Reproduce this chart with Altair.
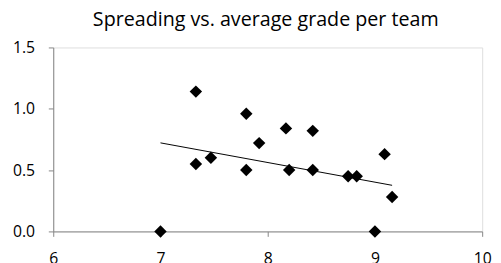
import altair as alt
import pandas as pd

# Scatter data: average grade per team (x) vs spreading (y)
avg_grade = [7.00, 7.33, 7.33, 7.47, 7.80, 7.80, 7.92, 8.17, 8.20, 8.42, 8.42, 8.75, 8.83, 9.00, 9.09, 9.16]
spreading = [0.00, 1.14, 0.55, 0.60, 0.96, 0.50, 0.72, 0.84, 0.50, 0.82, 0.50, 0.45, 0.45, 0.00, 0.63, 0.28]

# Trend line end points
trend_x = [7.00, 9.16]
trend_y = [0.722, 0.376]

x_ticks = [6, 7, 8, 9, 10]
y_ticks = [0.0, 0.5, 1.0, 1.5]

pts = pd.DataFrame({"x": avg_grade, "y": spreading})
trend = pd.DataFrame({"x": trend_x, "y": trend_y})

FONT = "Open Sans"
AXIS_COLOR = "#868686"

x_enc = alt.X(
    "x:Q",
    scale=alt.Scale(domain=[6, 10], nice=False, zero=False),
    axis=alt.Axis(values=x_ticks, format="d", title=None, grid=False,
                  domainColor=AXIS_COLOR, tickColor=AXIS_COLOR, tickSize=5,
                  labelPadding=15, labelFontSize=16, labelFont=FONT,
                  labelColor="#000000", labelFlush=False),
)
y_enc = alt.Y(
    "y:Q",
    scale=alt.Scale(domain=[0, 1.5], nice=False),
    axis=alt.Axis(values=y_ticks, format=".1f", title=None, grid=False,
                  domainColor=AXIS_COLOR, tickColor=AXIS_COLOR, tickSize=5,
                  labelPadding=14, labelFontSize=16, labelFont=FONT,
                  labelColor="#000000"),
)

points = alt.Chart(pts).mark_point(
    shape="diamond", filled=True, size=160, color="#000000", opacity=1
).encode(x=x_enc, y=y_enc)

line = alt.Chart(trend).mark_line(color="#000000", strokeWidth=1).encode(
    x=alt.X("x:Q"), y=alt.Y("y:Q")
)

chart = (
    alt.layer(line, points)
    .properties(
        width=436,
        height=187,
        title=alt.TitleParams(
            "Spreading vs. average grade per team",
            font=FONT, fontSize=20, fontWeight="normal", color="#000000",
            anchor="middle", dx=-2, dy=16, offset=10, baseline="alphabetic",
        ),
        autosize=alt.AutoSizeParams(type="none"),
        padding={"left": 46, "top": 38, "right": 11, "bottom": 30},
    )
    .configure_view(stroke=None)
    .configure(background="#ffffff")
)

chart.save("out.html", embed_options={"renderer": "svg", "actions": False})
